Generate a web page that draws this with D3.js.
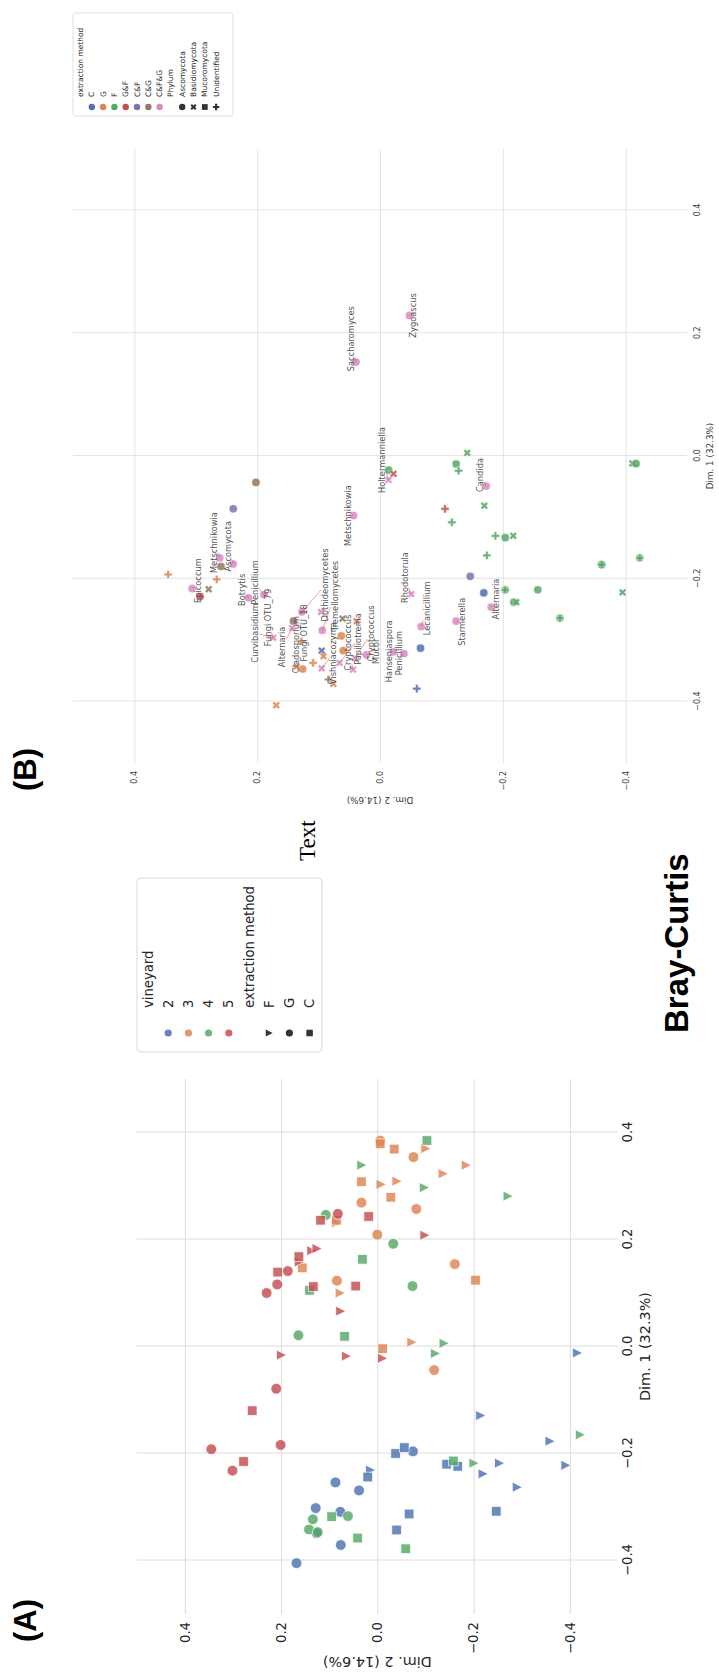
<!DOCTYPE html>
<html>
<head>
<meta charset="utf-8">
<script src="https://cdn.jsdelivr.net/npm/d3@7"></script>
<style>
  html, body { margin: 0; padding: 0; background: #ffffff; }
  svg { display: block; }
  text { font-family: "DejaVu Sans", sans-serif; }
</style>
</head>
<body>
<script>
// ---------------------------------------------------------------------------
// Panel A: samples, PCoA on Bray-Curtis distances, [Dim.1, Dim.2]
// ---------------------------------------------------------------------------
const vineyards = ["2", "3", "4", "5"];
const methodsA = ["F", "G", "C"];

const vineyard2 = {
  G: [[-0.405, 0.168], [-0.371, 0.076], [-0.349, 0.126], [-0.302, 0.128], [-0.309, 0.077], [-0.269, 0.038], [-0.254, 0.087], [-0.196, -0.074]],
  C: [[-0.343, -0.040], [-0.313, -0.066], [-0.244, 0.020], [-0.200, -0.038], [-0.189, -0.056], [-0.220, -0.144], [-0.224, -0.167], [-0.308, -0.247]],
  F: [[-0.231, 0.014], [-0.012, -0.416], [-0.129, -0.215], [-0.177, -0.359], [-0.218, -0.254], [-0.238, -0.220], [-0.222, -0.392], [-0.263, -0.291]]
};
const vineyard3 = {
  G: [[0.385, -0.006], [0.354, -0.075], [0.269, 0.033], [0.257, -0.081], [0.209, 0.000], [0.154, -0.161], [0.123, 0.084], [-0.044, -0.118]],
  C: [[0.379, -0.006], [0.369, -0.035], [0.308, 0.033], [0.279, -0.028], [0.236, 0.085], [0.147, 0.156], [0.124, -0.204], [-0.004, -0.011]],
  F: [[0.370, -0.101], [0.339, -0.185], [0.323, -0.137], [0.309, -0.041], [0.303, -0.008], [0.231, 0.085], [0.100, 0.077], [0.008, -0.072]]
};
const vineyard4 = {
  G: [[-0.342, 0.142], [-0.323, 0.134], [-0.347, 0.124], [-0.317, 0.061], [0.246, 0.107], [0.192, -0.033], [0.113, -0.073], [0.021, 0.164]],
  C: [[-0.318, 0.095], [-0.358, 0.041], [-0.378, -0.059], [-0.214, -0.158], [0.105, 0.141], [0.163, 0.031], [0.019, 0.068], [0.385, -0.103]],
  F: [[-0.165, -0.422], [-0.218, -0.201], [-0.013, -0.121], [0.006, -0.139], [0.339, 0.032], [0.297, -0.098], [0.281, -0.272]]
};
const vineyard5 = {
  G: [[0.248, 0.082], [0.141, 0.186], [0.116, 0.208], [0.100, 0.230], [-0.079, 0.210], [-0.192, 0.345], [-0.184, 0.201], [-0.232, 0.301]],
  C: [[0.236, 0.118], [0.243, 0.018], [0.168, 0.163], [0.139, 0.207], [0.112, 0.133], [0.113, 0.045], [-0.120, 0.260], [-0.215, 0.278]],
  F: [[0.179, 0.136], [0.183, 0.125], [0.158, 0.162], [0.066, 0.076], [-0.016, 0.199], [-0.018, 0.064], [-0.022, -0.011], [0.208, -0.099]]
};

// ---------------------------------------------------------------------------
// Panel B: taxa, [Dim.1, Dim.2, phylum]
// ---------------------------------------------------------------------------
const methodsB = ["C", "G", "F", "G&F", "C&F", "C&G", "C&F&G"];
const phyla = ["Ascomycota", "Basidiomycota", "Mucoromycota", "Unidentified"];

const taxaC = [[-0.223, -0.169, "Ascomycota"], [-0.313, -0.066, "Ascomycota"], [-0.379, -0.060, "Unidentified"], [-0.317, 0.095, "Basidiomycota"]];
const taxaG = [[-0.193, 0.345, "Unidentified"], [-0.201, 0.266, "Unidentified"], [-0.293, 0.063, "Ascomycota"], [-0.269, 0.038, "Basidiomycota"],
  [-0.406, 0.169, "Basidiomycota"], [-0.302, 0.128, "Unidentified"], [-0.326, 0.092, "Basidiomycota"], [-0.317, 0.060, "Ascomycota"],
  [-0.371, 0.076, "Basidiomycota"], [-0.337, 0.109, "Unidentified"], [-0.347, 0.126, "Ascomycota"], [-0.343, 0.136, "Basidiomycota"]];
const taxaF = [[0.005, -0.142, "Basidiomycota"], [-0.013, -0.124, "Ascomycota"], [-0.024, -0.128, "Unidentified"], [-0.108, -0.117, "Unidentified"],
  [-0.081, -0.170, "Basidiomycota"], [-0.130, -0.188, "Unidentified"], [-0.133, -0.204, "Ascomycota"], [-0.130, -0.217, "Basidiomycota"],
  [-0.162, -0.174, "Unidentified"], [-0.218, -0.204, "Basidiomycota"], [-0.218, -0.204, "Unidentified"], [-0.218, -0.257, "Ascomycota"],
  [-0.238, -0.218, "Ascomycota"], [-0.238, -0.222, "Basidiomycota"], [-0.264, -0.293, "Basidiomycota"], [-0.264, -0.293, "Unidentified"],
  [-0.177, -0.361, "Ascomycota"], [-0.177, -0.361, "Unidentified"], [-0.166, -0.423, "Basidiomycota"], [-0.166, -0.423, "Unidentified"],
  [-0.222, -0.395, "Basidiomycota"], [-0.012, -0.411, "Basidiomycota"], [-0.0125, -0.417, "Ascomycota"], [-0.023, -0.014, "Ascomycota"]];
const taxaGF = [[-0.029, -0.022, "Basidiomycota"], [-0.086, -0.106, "Unidentified"], [-0.229, 0.293, "Ascomycota"]];
const taxaCF = [[-0.086, 0.239, "Ascomycota"], [-0.196, -0.147, "Ascomycota"]];
const taxaCG = [[-0.043, 0.202, "Ascomycota"], [-0.217, 0.279, "Basidiomycota"], [-0.180, 0.259, "Ascomycota"], [-0.269, 0.141, "Ascomycota"],
  [-0.265, 0.061, "Basidiomycota"], [-0.364, 0.084, "Unidentified"]];
const taxaCFG = [[0.229, -0.048, "Ascomycota"], [0.153, 0.039, "Ascomycota"], [-0.097, 0.043, "Ascomycota"], [-0.039, -0.014, "Basidiomycota"],
  [-0.049, -0.173, "Ascomycota"], [-0.246, -0.181, "Ascomycota"], [-0.269, -0.124, "Ascomycota"], [-0.278, -0.067, "Ascomycota"],
  [-0.225, -0.051, "Basidiomycota"], [-0.322, -0.039, "Ascomycota"], [-0.216, 0.306, "Ascomycota"], [-0.166, 0.261, "Ascomycota"],
  [-0.176, 0.239, "Ascomycota"], [-0.231, 0.214, "Ascomycota"], [-0.226, 0.189, "Ascomycota"], [-0.296, 0.174, "Basidiomycota"],
  [-0.254, 0.127, "Ascomycota"], [-0.254, 0.096, "Basidiomycota"], [-0.284, 0.094, "Ascomycota"], [-0.346, 0.095, "Basidiomycota"],
  [-0.324, 0.022, "Ascomycota"], [-0.319, -0.022, "Ascomycota"], [-0.280, 0.143, "Basidiomycota"], [-0.337, 0.066, "Basidiomycota"],
  [-0.348, 0.044, "Basidiomycota"], [-0.329, 0.041, "Basidiomycota"]];

// taxon labels: [name, label Dim.1, label Dim.2, taxon Dim.1, taxon Dim.2]
const labelsB = [
  ["Zygoascus", 0.229, -0.054, 0.229, -0.048],
  ["Saccharomyces", 0.191, 0.047, 0.153, 0.039],
  ["Metschnikowia", -0.097, 0.052, -0.097, 0.043],
  ["Holtermanniella", -0.0065, -0.004, -0.039, -0.014],
  ["Candida", -0.031, -0.163, -0.049, -0.173],
  ["Alternaria", -0.233, -0.189, -0.246, -0.181],
  ["Starmerella", -0.270, -0.133, -0.269, -0.124],
  ["Lecanicillium", -0.248, -0.077, -0.278, -0.067],
  ["Rhodotorula", -0.198, -0.040, -0.225, -0.051],
  ["Penicillium", -0.321, -0.031, -0.322, -0.039],
  ["Hanseniaspora", -0.318, -0.015, -0.319, -0.022],
  ["Mucor", -0.318, 0.006, -0.324, 0.022],
  ["Cryptococcus", -0.289, 0.014, -0.329, 0.041],
  ["Papiliotrema", -0.298, 0.036, -0.337, 0.066],
  ["Cryptococcus", -0.304, 0.052, -0.348, 0.044],
  ["Vishniacozyma", -0.321, 0.076, -0.346, 0.095],
  ["Tremellomycetes", -0.228, 0.074, -0.284, 0.094],
  ["Dothideomycetes", -0.210, 0.089, -0.254, 0.127],
  ["Fungi OTU_18", -0.288, 0.124, -0.269, 0.141],
  ["Cladosporium", -0.307, 0.136, -0.343, 0.136],
  ["Alternaria", -0.311, 0.159, -0.280, 0.143],
  ["Fungi OTU_79", -0.263, 0.183, -0.296, 0.174],
  ["Curvibasidium", -0.288, 0.203, -0.296, 0.174],
  ["Penicillium", -0.206, 0.204, -0.226, 0.189],
  ["Botrytis", -0.218, 0.224, -0.231, 0.214],
  ["Ascomycota", -0.147, 0.248, -0.176, 0.239],
  ["Metschnikowia", -0.141, 0.271, -0.166, 0.261],
  ["Epicoccum", -0.203, 0.297, -0.216, 0.306]
];

const tickValues = [-0.4, -0.2, 0.0, 0.2, 0.4];

// ---------------------------------------------------------------------------
const W = 719, H = 1677;
const palette = ["#4C72B0", "#DD8452", "#55A868", "#C44E52", "#8172B3", "#937860", "#DA8BC3"];
const gridColor = "#dcdcdc";
const fmt = d3.format(".1f");

const svg = d3.select("body").append("svg").attr("width", W).attr("height", H);
svg.append("rect").attr("width", W).attr("height", H).attr("fill", "#fff");
// the figure is laid out landscape and turned a quarter turn onto the page
const fig = svg.append("g").attr("transform", `translate(0,${H}) rotate(-90)`);

function markerPath(shape, r) {
  if (shape === "circle") return `M${r},0A${r},${r} 0 1,1 ${-r},0A${r},${r} 0 1,1 ${r},0Z`;
  if (shape === "square") { const s = r * 0.9; return `M${-s},${-s}H${s}V${s}H${-s}Z`; }
  if (shape === "tri") { const s = r * 0.95; return `M0,${s}L${-s},${-s}L${s},${-s}Z`; }
  const a = r, t = r / 3;
  const plus = [[-t, -a], [t, -a], [t, -t], [a, -t], [a, t], [t, t], [t, a], [-t, a], [-t, t], [-a, t], [-a, -t], [-t, -t]];
  let pts = plus;
  if (shape === "x") {
    const c = Math.SQRT1_2;
    pts = plus.map(([x, y]) => [(x - y) * c, (x + y) * c]);
  }
  return "M" + pts.map(p => p[0].toFixed(2) + "," + p[1].toFixed(2)).join("L") + "Z";
}

function drawGrid(g, x, y, o) {
  const w = o.right - o.left, h = o.bottom - o.top;
  const gx = g.append("g").attr("transform", `translate(0,${o.bottom})`)
    .call(d3.axisBottom(x).tickValues(tickValues).tickFormat(fmt).tickSize(-h).tickPadding(o.padX));
  const gy = g.append("g").attr("transform", `translate(${o.left},0)`)
    .call(d3.axisLeft(y).tickValues(tickValues).tickFormat(fmt).tickSize(-w).tickPadding(o.padY));
  [gx, gy].forEach(a => {
    a.select(".domain").remove();
    a.selectAll(".tick line").attr("stroke", gridColor).attr("stroke-width", o.gridW);
    a.selectAll(".tick text").attr("fill", o.tickColor).style("font-size", o.tickSize + "px")
      .style("font-family", "DejaVu Sans, sans-serif");
  });
  g.append("text").attr("x", (o.left + o.right) / 2).attr("y", o.xLabelY)
    .attr("text-anchor", "middle").attr("dominant-baseline", "central")
    .attr("fill", o.tickColor).style("font-size", o.labelSize + "px").text("Dim. 1 (32.3%)");
  g.append("text").attr("transform", `translate(${o.yLabelX},${(o.top + o.bottom) / 2}) rotate(-90)`)
    .attr("text-anchor", "middle").attr("dominant-baseline", "central")
    .attr("fill", o.tickColor).style("font-size", o.labelSize + "px").text("Dim. 2 (14.6%)");
}

// ----------------------------- panel A -------------------------------------
const boxA = { left: 63, right: 598, top: 136.7, bottom: 618 };
const xA = d3.scaleLinear().domain([-0.5, 0.5]).range([boxA.left, boxA.right]);
const yA = d3.scaleLinear().domain([-0.5, 0.5]).range([boxA.bottom, boxA.top]);
const gA = fig.append("g");
drawGrid(gA, xA, yA, { ...boxA, padX: 5, padY: 8, gridW: 1, tickColor: "#262626", tickSize: 13.2,
  labelSize: 14.4, xLabelY: 645, yLabelX: 15 });

const shapeA = { F: "tri", G: "circle", C: "square" };
const rA = 5.4;
[vineyard2, vineyard3, vineyard4, vineyard5].forEach((vy, i) => {
  methodsA.forEach(m => {
    gA.append("g").selectAll("path").data(vy[m]).join("path")
      .attr("transform", d => `translate(${xA(d[0])},${yA(d[1])})`)
      .attr("d", markerPath(shapeA[m], rA))
      .attr("fill", palette[i]).attr("stroke", "#fff").attr("stroke-width", 0.8)
      .attr("opacity", 0.82);
  });
});

// legend A
const legA = fig.append("g");
legA.append("rect").attr("x", 625).attr("y", 137).attr("width", 174).attr("height", 185)
  .attr("rx", 4).attr("fill", "#fff").attr("stroke", "#d9d9d9").attr("stroke-width", 1);
const rowsA = [["vineyard", null, null]]
  .concat(vineyards.map((v, i) => [v, "circle", palette[i]]))
  .concat([["extraction method", null, null]])
  .concat(methodsA.map(m => [m, shapeA[m], "#333333"]));
rowsA.forEach((row, i) => {
  const v = 148 + i * 20.2;
  if (row[1]) legA.append("path").attr("transform", `translate(644,${v})`)
    .attr("d", markerPath(row[1], 3.6)).attr("fill", row[2]).attr("opacity", row[1] === "circle" && row[2] !== "#333333" ? 0.85 : 1);
  legA.append("text").attr("x", 669).attr("y", v).attr("dominant-baseline", "central")
    .attr("fill", "#262626").style("font-size", "13.2px").text(row[0]);
});

// ----------------------------- panel B -------------------------------------
const boxB = { left: 914, right: 1528, top: 73, bottom: 687 };
const xB = d3.scaleLinear().domain([-0.5, 0.5]).range([boxB.left, boxB.right]);
const yB = d3.scaleLinear().domain([-0.5, 0.5]).range([boxB.bottom, boxB.top]);
const gB = fig.append("g");
drawGrid(gB, xB, yB, { ...boxB, padX: 7, padY: 8, gridW: 0.8, tickColor: "#3a3a3a", tickSize: 8,
  labelSize: 8.8, xLabelY: 710, yLabelX: 877 });

const shapeB = { Ascomycota: "circle", Basidiomycota: "x", Mucoromycota: "square", Unidentified: "plus" };
const rB = 4.1;
[taxaC, taxaG, taxaF, taxaGF, taxaCF, taxaCG, taxaCFG].forEach((set, i) => {
  gB.append("g").selectAll("path").data(set).join("path")
    .attr("transform", d => `translate(${xB(d[0])},${yB(d[1])})`)
    .attr("d", d => markerPath(shapeB[d[2]], rB))
    .attr("fill", palette[i]).attr("stroke", "#fff").attr("stroke-width", 0.5)
    .attr("opacity", 0.85);
});

// taxon names with leader lines
const arrowG = gB.append("g");
const labG = gB.append("g");
labelsB.forEach(([name, lx, ly, px, py]) => {
  const t = labG.append("text").attr("x", xB(lx)).attr("y", yB(ly))
    .attr("text-anchor", "middle").attr("dominant-baseline", "central")
    .attr("fill", "#555555").style("font-size", "8.3px").text(name);
  const bb = t.node().getBBox();
  const cx = xB(lx), cy = yB(ly), tx = xB(px), ty = yB(py);
  const dx = tx - cx, dy = ty - cy;
  const sx = dx === 0 ? Infinity : (bb.width / 2) / Math.abs(dx);
  const sy = dy === 0 ? Infinity : (bb.height / 2 - 1) / Math.abs(dy);
  const s = Math.min(sx, sy);
  if (s < 0.85) {
    arrowG.append("line").attr("x1", cx + dx * s).attr("y1", cy + dy * s)
      .attr("x2", tx).attr("y2", ty).attr("stroke", "#e0443e").attr("stroke-width", 0.5);
  }
});

// legend B
const legB = fig.append("g");
legB.append("rect").attr("x", 1561).attr("y", 73).attr("width", 103).attr("height", 160)
  .attr("rx", 3).attr("fill", "#fff").attr("stroke", "#d9d9d9").attr("stroke-width", 0.8);
const rowsB = [["extraction method", null, null]]
  .concat(methodsB.map((m, i) => [m, "circle", palette[i]]))
  .concat([["Phylum", null, null]])
  .concat(phyla.map(p => [p, shapeB[p], "#333333"]));
rowsB.forEach((row, i) => {
  const v = 80.5 + i * 11.3;
  if (row[1]) legB.append("path").attr("transform", `translate(1570,${v})`)
    .attr("d", markerPath(row[1], 3.2)).attr("fill", row[2]);
  legB.append("text").attr("x", 1580).attr("y", v).attr("dominant-baseline", "central")
    .attr("fill", "#262626").style("font-size", "7.5px").text(row[0]);
});

// panel tags and titles
fig.append("text").attr("x", 35).attr("y", 36).style("font-family", "Liberation Sans, Arial, sans-serif")
  .style("font-weight", "bold").style("font-size", "31px").attr("fill", "#000").text("(A)");
fig.append("text").attr("x", 886).attr("y", 36).style("font-family", "Liberation Sans, Arial, sans-serif")
  .style("font-weight", "bold").style("font-size", "31px").attr("fill", "#000").text("(B)");
fig.append("text").attr("x", 644).attr("y", 688).style("font-family", "Liberation Sans, Arial, sans-serif")
  .style("font-weight", "bold").style("font-size", "33px").attr("fill", "#000").text("Bray-Curtis");
fig.append("text").attr("x", 816).attr("y", 315).style("font-family", "Liberation Serif, serif")
  .style("font-size", "23px").attr("fill", "#000").text("Text");
</script>
</body>
</html>
